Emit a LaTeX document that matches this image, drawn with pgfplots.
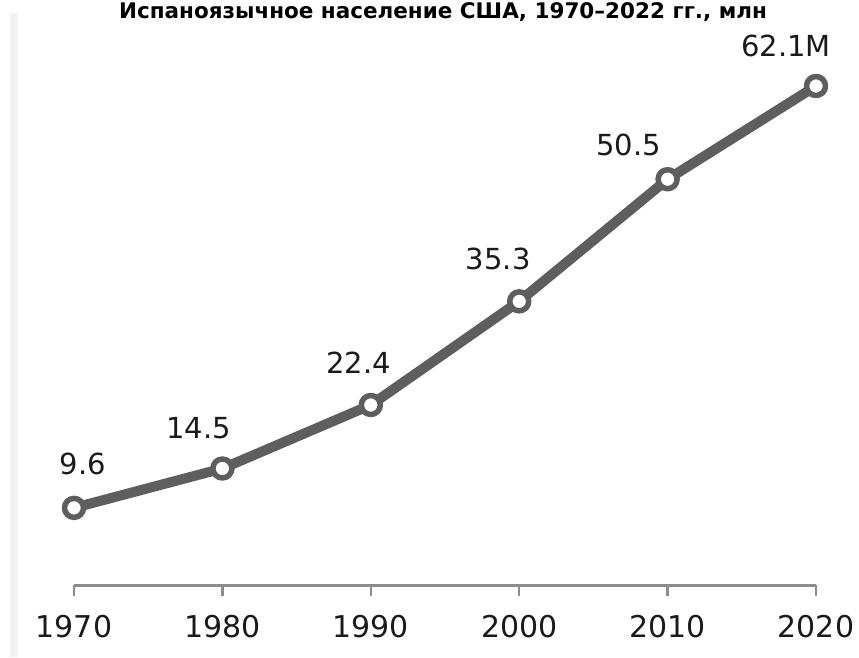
\documentclass[border=0pt]{standalone}
\usepackage{pgfplots}
\pgfplotsset{compat=1.18}
\usepackage{fontspec}
\setmainfont{DejaVu Sans}
\definecolor{linegray}{HTML}{5E5E5E}
\definecolor{axisgray}{HTML}{8C8C8C}
\definecolor{bargray}{HTML}{F2F2F2}
\definecolor{txt}{HTML}{1A1A1A}
\begin{document}
\begin{tikzpicture}
\fill[bargray] (-64pt,-72pt) rectangle (-56pt,572pt);
\begin{axis}[
  at={(0pt,0pt)}, anchor=south west,
  scale only axis, width=742pt, height=499pt,
  xmin=1970, xmax=2020, ymin=0, ymax=62.1,
  clip=false,
  axis x line*=bottom, axis y line=none,
  x axis line style={axisgray, line width=3pt, -},
  xtick={1970,1980,1990,2000,2010,2020},
  xticklabels={1970,1980,1990,2000,2010,2020},
  major tick length=11pt,
  tick align=outside,
  xtick style={axisgray, line width=2.5pt},
  xticklabel style={anchor=base, yshift=-41pt, font=\fontsize{30}{36}\selectfont, text=txt},
  ytick=\empty,
]
\addplot[linegray, line width=10pt, line join=round,
  mark=*, mark size=9.5pt,
  mark options={fill=white, draw=linegray, line width=5.5pt}]
  coordinates {(1970,9.6) (1980,14.5) (1990,22.4) (2000,35.3) (2010,50.5) (2020,62.1)};
\begin{scope}[every node/.style={anchor=base, text=txt, font=\fontsize{29}{34}\selectfont}]
\node[xshift=9pt, yshift=33pt] at (axis cs:1970,9.6) {9.6};
\node[xshift=-24pt, yshift=30pt] at (axis cs:1980,14.5) {14.5};
\node[xshift=-12pt, yshift=32pt] at (axis cs:1990,22.4) {22.4};
\node[xshift=-21pt, yshift=32pt] at (axis cs:2000,35.3) {35.3};
\node[xshift=-39pt, yshift=24pt] at (axis cs:2010,50.5) {50.5};
\node[xshift=-30pt, yshift=29pt] at (axis cs:2020,62.1) {62.1M};
\end{scope}
\end{axis}
\node[anchor=base, font=\bfseries\fontsize{21.5}{25}\selectfont] at (369pt,566pt) {Испаноязычное население США, 1970–2022 гг., млн};
\pgfresetboundingbox
\path[use as bounding box] (-74pt,-72pt) rectangle (785pt,585pt);
\end{tikzpicture}
\end{document}
